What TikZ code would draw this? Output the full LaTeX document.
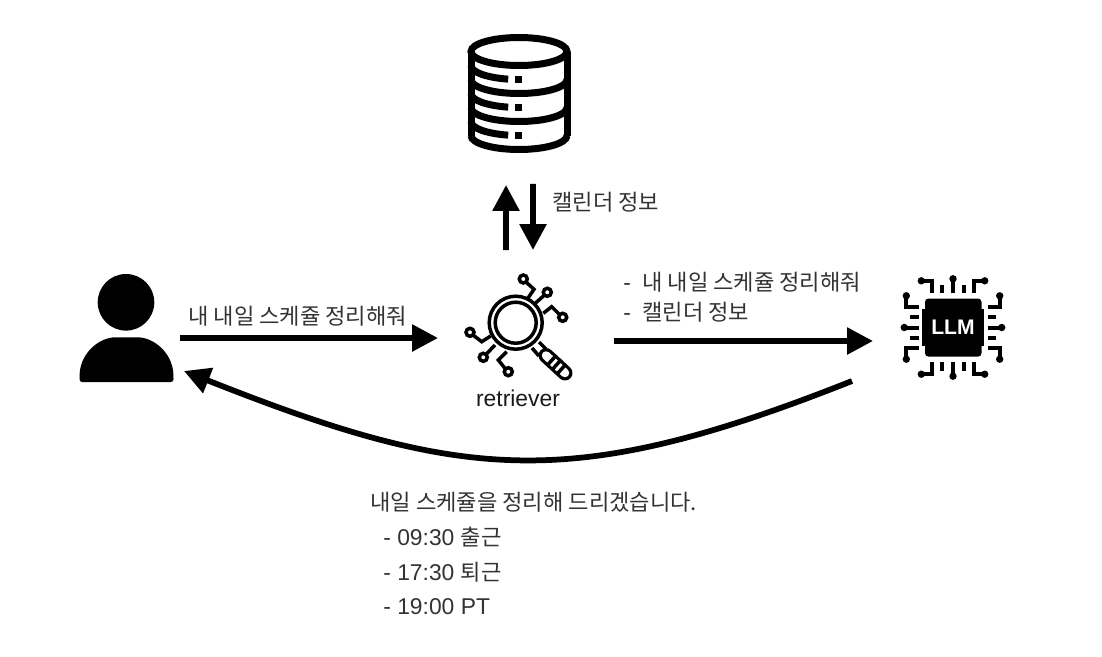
\documentclass[tikz,border=0pt]{standalone}
\usepackage{fontspec}
\setmainfont{Liberation Sans}
\newfontfamily\kr[Scale=0.97]{Noto Sans CJK KR}
\usetikzlibrary{arrows.meta}

\tikzset{
  iconbox/.style={inner sep=0pt,outer sep=0pt},
  bigarrow/.style={black,line width=0.115cm,-{Triangle[length=0.52cm,width=0.52cm]}},
  msg/.style={anchor=west,inner sep=0pt,text=black!80,font=\fontsize{13}{15}\selectfont},
  iconline/.style={black,line width=0.07cm},
  chipline/.style={black,line width=0.08cm},
  dbline/.style={black,line width=0.14cm}
}

\begin{document}
\begin{tikzpicture}[x=0.02cm,y=-0.02cm]

  \useasboundingbox (0,0) rectangle (1102,656);

  % box of each icon, the arrows start from these
  \node[iconbox,minimum width=2.06cm,minimum height=3cm] (db) at (519,109) {};
  \node[iconbox,minimum width=2cm,minimum height=2.6cm] (user) at (130,338) {};
  \node[iconbox,minimum width=3.52cm,minimum height=3.64cm] (retriever) at (526,341) {};
  \node[iconbox,minimum width=3.2cm,minimum height=3.04cm] (llm) at (953,341) {};

  % database
  \draw[dbline] (519,51.5) ellipse [x radius=48,y radius=14];
  \draw[dbline] (471,51.5) -- (471,135.5);
  \draw[dbline] (567,51.5) -- (567,135.5);
  \foreach \y in {79.5,107.5,135.5}
  {
    \draw[dbline] (471,\y) arc [start angle=180,end angle=0,x radius=48,y radius=14];
    \draw[dbline] (471,\y-14) arc [start angle=180,end angle=103,x radius=48,y radius=14];
    \fill[black] (515,\y-3.5) rectangle (522,\y+3.5);
  }

  % user
  \fill[black] (126,302.3) circle [radius=28.3];
  \fill[black,rounded corners=1.5] (79.5,382) -- (79.5,376)
    .. controls (81,352) and (100,337.3) .. (118,337.3) -- (135,337.3)
    .. controls (153,337.3) and (172,352) .. (173.5,376) -- (173.5,382) -- cycle;

  % magnifier
  \draw[iconline] (515.7,322.7) circle [radius=26.5];
  \draw[iconline] (515.7,322.7) circle [radius=20.5];
  \draw[iconline] (523.3,279) circle [radius=4];
  \draw[iconline] (547.3,292.3) circle [radius=4];
  \draw[iconline] (562.7,317.3) circle [radius=4];
  \draw[iconline] (470,332.3) circle [radius=4];
  \draw[iconline] (483.3,357.3) circle [radius=4];
  \draw[iconline] (508.3,371.7) circle [radius=4];
  \draw[iconline] (526,282) -- (534,289.3) -- (527.7,298.5);
  \draw[iconline] (544.5,295) -- (535,303.5);
  \draw[iconline] (559.5,314.5) -- (551.7,306.7) -- (543.3,313.3);
  \draw[iconline] (473,335) -- (481.7,341.7) -- (490.7,336);
  \draw[iconline] (486,354.5) -- (495,345);
  \draw[iconline] (505.5,369) -- (498.3,360) -- (506.7,351.7);
  % handle
  \draw[iconline] (532,348) -- (539,356);
  \draw[iconline] (539,342) -- (546,349);
  \draw[black,line width=0.30cm,line cap=round] (546,355.5) -- (565,373);
  \draw[white,line width=0.17cm,line cap=round] (546,355.5) -- (565,373);
  \foreach \s in {0,1,2}
  {
    \draw[iconline] (556.5+4.8*\s,355+4.5*\s) -- (547.5+4.8*\s,365+4.5*\s);
  }
  \node[msg,anchor=center,text=black!90] (retrieverlabel) at (518,398) {retriever};

  % chip
  \fill[black,rounded corners=2] (925,298.5) rectangle (981.5,356.7);
  \fill[black] (922.3,309) rectangle (984.3,345.5);
  \node[inner sep=0pt,text=white,font=\fontsize{12}{14}\selectfont\bfseries] (llmlabel) at (953,327.5) {LLM};
  \foreach \r in {0,90,180,270}
  {
    \begin{scope}[shift={(953,327.5)},rotate=\r]
      \draw[chipline] (-31.7,-46.7) -- (-20.7,-46.7) -- (-20.7,-34.5);
      \draw[chipline] (31.7,-46.7) -- (20.7,-46.7) -- (20.7,-34.5);
      \draw[chipline] (-10.7,-43) -- (-10.7,-34.5);
      \draw[chipline] (10.7,-43) -- (10.7,-34.5);
      \draw[chipline] (0,-48.7) -- (0,-34.5);
      \fill[black] (-31.7,-46.7) circle [radius=3.7];
      \fill[black] (31.7,-46.7) circle [radius=3.7];
      \fill[black] (0,-48.7) circle [radius=3.7];
    \end{scope}
  }

  % arrows
  \draw[bigarrow] ([xshift=-0.4cm]retriever.north) -- ([xshift=-0.26cm,yshift=-0.02cm]db.south);
  \draw[bigarrow] ([xshift=0.28cm]db.south) -- ([xshift=0.14cm]retriever.north);
  \draw[bigarrow] (user.east) -- (user.east -| retriever.west);
  \draw[bigarrow] (retriever.east) -- (llm.west);
  \draw[bigarrow] ([shift={(-21,40)}]llm.west) .. controls (572,492) and (464,482) .. ([shift={(4,33)}]user.east);

  % texts
  \node[msg] (asklabel) at (188,316) {\kr 내 내일 스케쥴 정리해줘};
  \node[msg] (calendarlabel) at (552,202) {\kr 캘린더 정보};
  \node[msg] (promptone) at (623,282) {-\hspace{0.5em}{\kr 내 내일 스케쥴 정리해줘}};
  \node[msg] (prompttwo) at (623,312) {-\hspace{0.5em}{\kr 캘린더 정보}};
  \node[msg] (answer) at (370,502) {\kr 내일 스케쥴을 정리해 드리겠습니다.};
  \node[msg] (answerone) at (383,537) {- 09:30 {\kr 출근}};
  \node[msg] (answertwo) at (383,572) {- 17:30 {\kr 퇴근}};
  \node[msg] (answerthree) at (383,607) {- 19:00 PT};

\end{tikzpicture}
\end{document}
